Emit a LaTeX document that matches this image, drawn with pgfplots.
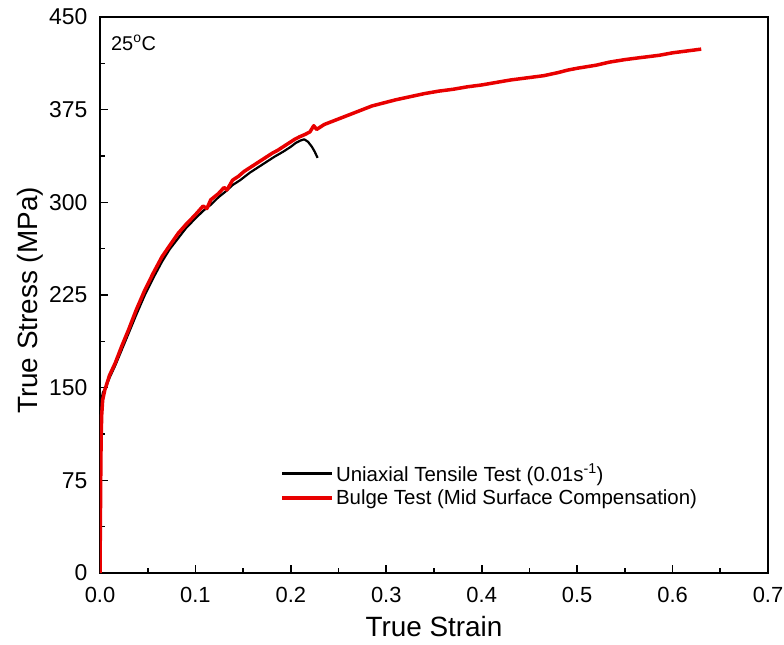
\documentclass[border=0pt]{standalone}
\usepackage{fontspec}
\setmainfont{Liberation Sans}
\usepackage{pgfplots}
\pgfplotsset{compat=1.18}
\definecolor{myred}{RGB}{232,0,0}
\begin{document}
\begin{tikzpicture}
\begin{axis}[
  scale only axis,
  width=668bp, height=556bp,
  xmin=0, xmax=0.7, ymin=0, ymax=450,
  xtick={0,0.1,...,0.7}, ytick={0,75,...,450},
  minor x tick num=1, minor y tick num=1,
  tick pos=left, tick align=inside,
  major tick length=8bp, minor tick length=5bp,
  axis line style={line width=1.8bp},
  every tick/.style={line width=1.6bp, black},
  /pgf/number format/assume math mode=true,
  xticklabel={\pgfmathprintnumber[fixed,fixed zerofill,precision=1]{\tick}},
  yticklabel={\pgfmathprintnumber[fixed,precision=0]{\tick}},
  xticklabel style={font=\fontsize{22}{26}\selectfont, yshift=-11bp},
  yticklabel style={font=\fontsize{23}{27}\selectfont, xshift=-9bp},
  xlabel={True Strain},
  ylabel={True Stress (MPa)},
  every axis x label/.style={at={(rel axis cs:0.5,0)}, yshift=-54bp, anchor=center, font=\fontsize{28}{32}\selectfont},
  every axis y label/.style={at={(rel axis cs:0,0.49)}, xshift=-70bp, rotate=90, anchor=center, font=\fontsize{28}{32}\selectfont},
  legend style={at={(rel axis cs:0.27,0.2)}, anchor=north west, draw=none, fill=none,
    font=\fontsize{20.5}{24}\selectfont, row sep=3bp, inner sep=0bp},
  legend cell align=left,
  legend image code/.code={\draw[#1] (0bp,0bp) -- (50bp,0bp);},
]
\addplot[black, line width=2.2bp, line join=round] coordinates {
(0,0) (0.0002,50) (0.0005,100) (0.0009,130) (0.0015,140) (0.003,146) (0.006,150)
(0.01,158) (0.016,168) (0.023,181) (0.03,194) (0.038,209) (0.047,225) (0.056,239)
(0.065,252) (0.073,262) (0.082,271) (0.09,279) (0.1,287) (0.108,293) (0.116,298)
(0.124,304) (0.132,309) (0.139,314) (0.147,318) (0.157,324) (0.165,328) (0.175,333)
(0.183,337) (0.192,341) (0.2,345) (0.205,348) (0.21,350) (0.214,351) (0.218,349)
(0.222,345) (0.225,341) (0.228,336)
};
\addlegendentry{Uniaxial Tensile Test (0.01s\textsuperscript{-1})}
\addplot[myred, line width=3.5bp, line join=round] coordinates {
(0,0) (0.0004,40) (0.0008,80) (0.0012,110) (0.0018,128) (0.0028,140) (0.005,148)
(0.01,160) (0.016,170) (0.023,184) (0.03,197) (0.038,213) (0.047,229) (0.056,243)
(0.065,256) (0.073,265) (0.082,275) (0.09,282) (0.1,290) (0.108,297) (0.112,295)
(0.116,302) (0.124,307) (0.13,312) (0.133,310) (0.139,318) (0.145,321) (0.151,325)
(0.157,328) (0.163,331) (0.169,334) (0.175,337) (0.181,340) (0.186,342) (0.192,345)
(0.198,348) (0.204,351) (0.209,353) (0.215,355) (0.22,357) (0.224,362) (0.227,359)
(0.235,363) (0.245,366) (0.255,369) (0.265,372) (0.275,375) (0.285,378) (0.295,380)
(0.31,383) (0.325,385.5) (0.34,388) (0.355,390) (0.37,391.5) (0.385,393.5) (0.4,395)
(0.415,397) (0.43,399) (0.45,401) (0.465,402.5) (0.48,405) (0.49,407) (0.5,408.5)
(0.52,411) (0.534,413.5) (0.55,415.5) (0.565,417) (0.586,419) (0.6,421) (0.615,422.5) (0.63,424)
};
\addlegendentry{Bulge Test (Mid Surface Compensation)}
\node[anchor=west, font=\fontsize{20}{24}\selectfont] at (axis cs:0.008,429) {25\textsuperscript{o}C};
\end{axis}
\pgfresetboundingbox
\useasboundingbox (-100bp,-72bp) rectangle (684bp,573bp);
\end{tikzpicture}
\end{document}
